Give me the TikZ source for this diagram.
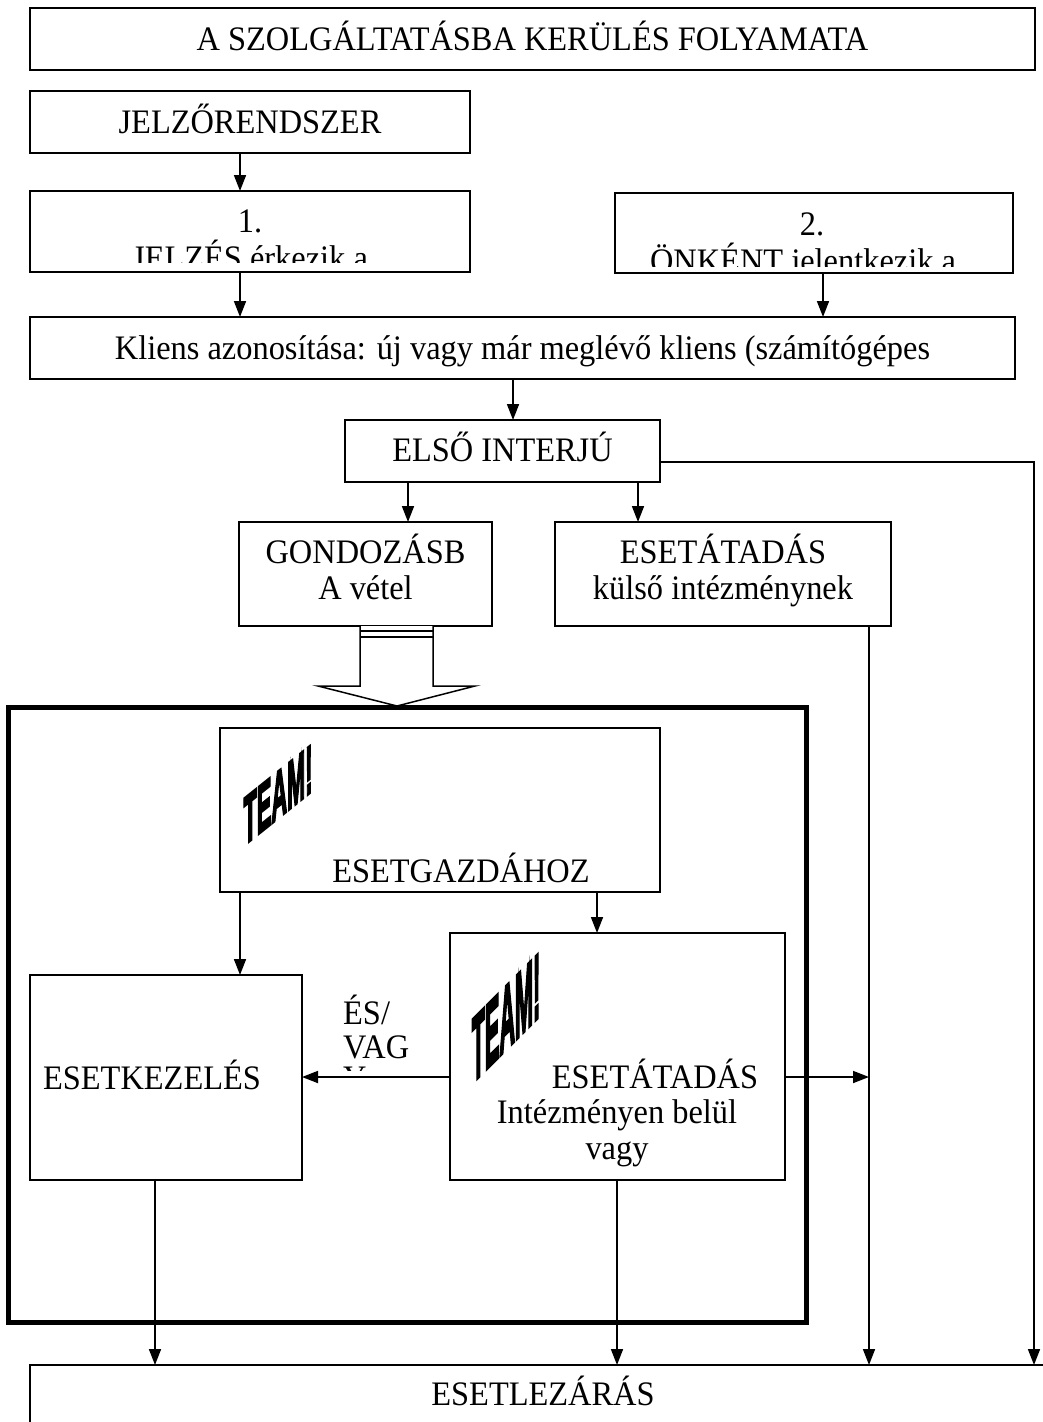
\documentclass[tikz,border=0pt]{standalone}
\usepackage{fontspec}
\setmainfont{Liberation Serif}
\newfontfamily\teamfont[FakeBold=4.5]{Liberation Sans}
\usetikzlibrary{arrows.meta}
\begin{document}
\begin{tikzpicture}[x=1pt,y=-1pt,
  box/.style={draw, line width=1.5pt, inner sep=0pt, outer sep=0pt},
  txt/.style={font=\fontsize{32.4}{36}\selectfont, inner sep=0pt, anchor=base, yscale=1.06},
  arr/.style={line width=1.7pt, -{Triangle[length=16pt,width=12pt]}},
  teamA/.style={font=\teamfont\bfseries\fontsize{68}{68}\selectfont, inner sep=0pt, yslant=0.8, xscale=0.32},
  teamB/.style={font=\teamfont\bfseries\fontsize{92}{92}\selectfont, inner sep=0pt, yslant=1.0, xscale=0.235}]
\useasboundingbox (0,0) rectangle (1042,1422);
% column / row coordinates
\coordinate (cA) at (240,0);
\coordinate (cB) at (823,0);
\coordinate (cC) at (513,0);
\coordinate (cD) at (408,0);
\coordinate (cE) at (638,0);
\coordinate (cF) at (1034,0);
\coordinate (cG) at (869,0);
\coordinate (cI) at (597,0);
\coordinate (cJ) at (155,0);
\coordinate (cK) at (617,0);
\coordinate (rowM) at (0,1077);
% boxes
\node[box, minimum width=1005pt, minimum height=62pt] (title) at (532.5,39) {};
\node[txt] (titletxt) at (532.5,50) {A SZOLGÁLTATÁSBA KERÜLÉS FOLYAMATA};
\node[box, minimum width=440pt, minimum height=62pt] (jelzo) at (250,122) {};
\node[txt] (jelzotxt) at (250,133) {JELZŐRENDSZER};
\node[box, minimum width=440pt, minimum height=81pt] (b1) at (250,231.5) {};
\begin{scope}
  \clip (32,193) rectangle (468,262);
  \node[txt] (b1a) at (250,232) {1.};
  \node[txt] (b1b) at (250,269) {JELZÉS érkezik a};
\end{scope}
\node[box, minimum width=398pt, minimum height=80pt] (b2) at (814,233) {};
\begin{scope}
  \clip (617,195) rectangle (1011,266);
  \node[txt] (b2a) at (812,235) {2.};
  \node[txt] (b2b) at (803,272) {ÖNKÉNT jelentkezik a};
\end{scope}
\node[box, minimum width=985pt, minimum height=62pt] (kliens) at (522.5,348) {};
\node[txt] (klienstxt) at (522.5,359) {Kliens azonosítása: új vagy már meglévő kliens (számítógépes};
\node[box, minimum width=315pt, minimum height=62pt] (elso) at (502.5,451) {};
\node[txt] (elsotxt) at (502.5,461) {ELSŐ INTERJÚ};
\node[box, minimum width=253pt, minimum height=104pt] (gond) at (365.5,574) {};
\node[txt] (gonda) at (365.5,563) {GONDOZÁSB};
\node[txt] (gondb) at (365.5,599) {A vétel};
\node[box, minimum width=336pt, minimum height=104pt] (kulso) at (723,574) {};
\node[txt] (kulsoa) at (723,563) {ESETÁTADÁS};
\node[txt] (kulsob) at (723,599) {külső intézménynek};
% block arrow
\draw[line width=1.5pt, fill=white] (360,626) -- (360,686) -- (318,686) -- (397,706) -- (475,686) -- (433,686) -- (433,626);
\draw[line width=1.3pt] (360,631) -- (433,631) (360,637) -- (433,637);
% thick frame
\node[draw, line width=5pt, inner sep=0pt, outer sep=0pt, minimum width=798pt, minimum height=615pt] (frame) at (407,1014.5) {};
\node[box, minimum width=440pt, minimum height=164pt] (gazda) at (440,810) {};
\node[teamA] (team1) at (278,795) {TEAM!};
\node[txt] (gazdatxt) at (461,882) {ESETGAZDÁHOZ};
\node[box, minimum width=272pt, minimum height=205pt] (kezel) at (166,1077.5) {};
\node[txt] (kezeltxt) at (152,1089) {ESETKEZELÉS};
\node[box, minimum width=335pt, minimum height=247pt] (atad) at (617.5,1056.5) {};
\node[teamB] (team2) at (506,1018) {TEAM!};
\node[txt] (atada) at (655,1088) {ESETÁTADÁS};
\node[txt] (atadb) at (617,1123) {Intézményen belül};
\node[txt] (atadc) at (617,1159) {vagy};
\begin{scope}
  \clip (330,985) rectangle (440,1070);
  \node[txt, anchor=base west] (es1) at (343,1024) {ÉS/};
  \node[txt, anchor=base west] (es2) at (343,1058) {VAG};
  \node[txt, anchor=base west] (es3) at (343,1089) {Y};
\end{scope}
\node[box, anchor=north west, minimum width=1040pt, minimum height=80pt] (lezar) at (30,1365) {};
\node[txt] (lezartxt) at (543,1405) {ESETLEZÁRÁS};
% connectors
\draw[arr] (cA |- jelzo.south) -- (cA |- b1.north);
\draw[arr] (cA |- b1.south) -- (cA |- kliens.north);
\draw[arr] (cB |- b2.south) -- (cB |- kliens.north);
\draw[arr] (cC |- kliens.south) -- (cC |- elso.north);
\draw[arr] (cD |- elso.south) -- (cD |- gond.north);
\draw[arr] (cE |- elso.south) -- (cE |- kulso.north);
\draw[arr] ([yshift=-11pt]elso.east) -| (cF |- lezar.north);
\draw[arr] (cG |- kulso.south) -- (cG |- lezar.north);
\draw[arr] (cA |- gazda.south) -- (cA |- kezel.north);
\draw[arr] (cI |- gazda.south) -- (cI |- atad.north);
\draw[arr] (atad.west |- rowM) -- (kezel.east |- rowM);
\draw[arr] (atad.east |- rowM) -- (cG |- rowM);
\draw[arr] (cJ |- kezel.south) -- (cJ |- lezar.north);
\draw[arr] (cK |- atad.south) -- (cK |- lezar.north);
\end{tikzpicture}
\end{document}
